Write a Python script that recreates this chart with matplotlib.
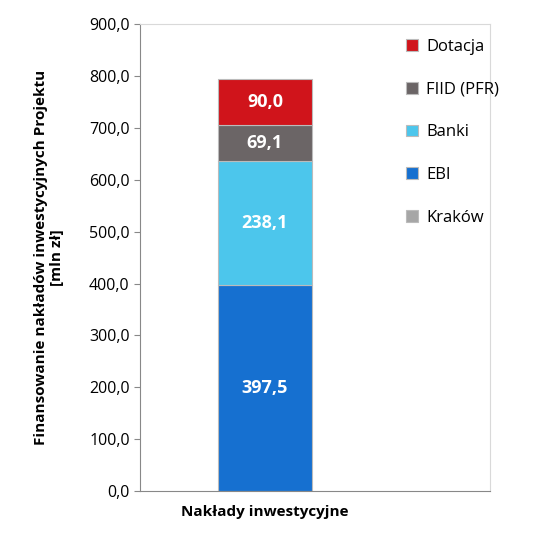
import matplotlib
matplotlib.use("Agg")
import matplotlib.pyplot as plt

plt.rcParams['font.family'] = ['Open Sans', 'DejaVu Sans']

category = "Nakłady inwestycyjne"
series = ["Kraków", "EBI", "Banki", "FIID (PFR)", "Dotacja"]
values = [0.3, 397.5, 238.1, 69.1, 90.0]
labels = [None, "397,5", "238,1", "69,1", "90,0"]
colors = ["#a6a6a6", "#1670d0", "#4cc6ec", "#6b6566", "#d0141b"]
yticks = [0, 100, 200, 300, 400, 500, 600, 700, 800, 900]

fig = plt.figure(figsize=(5.37, 5.47), dpi=100)
ax = fig.add_axes([0.261, 0.102, 0.651, 0.854])
bottom = 0
handles = []
for s, v, l, c in zip(series, values, labels, colors):
    h = ax.bar(0, v, width=0.27, bottom=bottom, color=c, edgecolor="#bbbbbb", linewidth=0.8, label=s)
    handles.append(h)
    if l:
        ax.text(0, bottom + v / 2, l, ha="center", va="center", color="white", fontsize=13, fontweight="bold")
    bottom += v
ax.set_xlim(-0.357, 0.643)
ax.set_ylim(0, 900)
ax.set_yticks(yticks)
ax.set_yticklabels([f"{t:.1f}".replace(".", ",") for t in yticks], fontsize=11.5)
ax.set_xticks([0])
ax.set_xticklabels([category], fontsize=11, fontweight="bold")
ax.tick_params(axis="x", length=0, pad=10)
ax.tick_params(axis="y", length=4, color="#888888")
for sp in ax.spines.values():
    sp.set_color("#d9d9d9")
ax.spines["left"].set_color("#888888")
ax.spines["bottom"].set_color("#888888")
ax.set_ylabel("Finansowanie nakładów inwestycyjnych Projektu\n[mln zł]", fontsize=11, fontweight="bold", labelpad=18)
ax.legend(handles[::-1], series[::-1], loc="upper right", bbox_to_anchor=(1.07, 1.0), frameon=False,
          fontsize=12, handlelength=0.7, handleheight=0.7, handletextpad=0.5, labelspacing=1.6)
fig.savefig("out.png", dpi=100)
